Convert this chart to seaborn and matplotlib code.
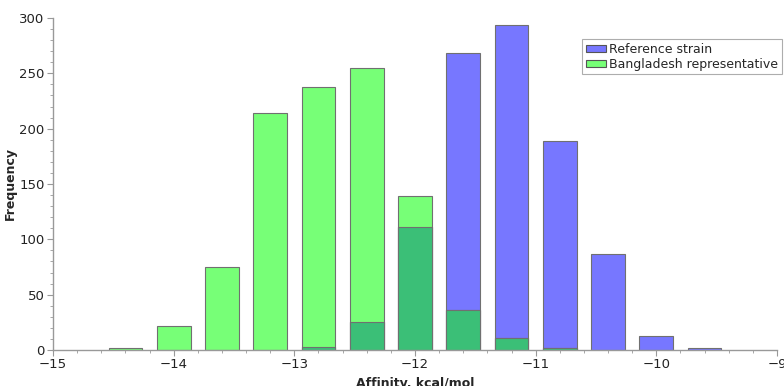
import numpy as np
import pandas as pd
import matplotlib
matplotlib.use("Agg")
import matplotlib.pyplot as plt
import seaborn as sns
from matplotlib.ticker import MultipleLocator
from matplotlib.patches import Patch

# Data (bin centres in kcal/mol)
affinity = [-14.4, -14.0, -13.6, -13.2, -12.8, -12.4, -12.0, -11.6, -11.2, -10.8, -10.4, -10.0, -9.6]
reference_strain = [0, 0, 0, 0, 3, 25, 111, 268, 294, 189, 87, 13, 2]
bangladesh_rep = [2, 22, 75, 214, 238, 255, 139, 36, 11, 2, 0, 0, 0]
series_names = ["Reference strain", "Bangladesh representative"]

BLUE = "#7777ff"
GREEN = "#77ff77"
TEAL = "#3bbf77"

df = pd.DataFrame({"affinity": affinity,
                   "reference": reference_strain,
                   "bangladesh": bangladesh_rep})
df["overlap"] = df[["reference", "bangladesh"]].min(axis=1)

sns.set_style("ticks")
plt.rcParams["font.family"] = ["DejaVu Sans"]

fig = plt.figure(figsize=(7.84, 3.86), dpi=100)
ax = fig.add_axes([53 / 784, 36 / 386, 724 / 784, 332 / 386])

for col, color in [("reference", BLUE), ("bangladesh", GREEN), ("overlap", TEAL)]:
    sub = df[df[col] > 0]
    sns.barplot(data=sub, x="affinity", y=col, native_scale=True, width=0.7,
                color=color, saturation=1, edgecolor="#707070", linewidth=0.8,
                errorbar=None, ax=ax)

ax.set_xlim(-15, -9)
ax.set_ylim(0, 300)
ax.xaxis.set_major_locator(MultipleLocator(1))
ax.xaxis.set_minor_locator(MultipleLocator(0.2))
ax.yaxis.set_major_locator(MultipleLocator(50))
ax.yaxis.set_minor_locator(MultipleLocator(10))

for s in ["top", "right"]:
    ax.spines[s].set_visible(False)
for s in ["left", "bottom"]:
    ax.spines[s].set_color("#999999")
    ax.spines[s].set_linewidth(1.0)

ax.tick_params(which="major", direction="out", length=4, width=0.8,
               color="#999999", labelsize=9.5, labelcolor="#222222", pad=2)
ax.tick_params(which="minor", direction="out", length=2, width=0.6, color="#999999")

ax.set_xlabel("Affinity, kcal/mol", fontsize=9, fontweight="bold", labelpad=4)
ax.set_ylabel("Frequency", fontsize=9, fontweight="bold", labelpad=2)

handles = [Patch(facecolor=BLUE, edgecolor="#555555", linewidth=0.8),
           Patch(facecolor=GREEN, edgecolor="#555555", linewidth=0.8)]
leg = ax.legend(handles, series_names, loc="upper right",
                bbox_to_anchor=(782 / 784, 1 - 39 / 386), bbox_transform=fig.transFigure,
                borderaxespad=0, fontsize=9, frameon=True, fancybox=False,
                handlelength=1.6, handleheight=0.45, handletextpad=0.3,
                labelspacing=0.15, borderpad=0.3)
leg.get_frame().set_edgecolor("#999999")
leg.get_frame().set_linewidth(0.8)

fig.savefig("out.png", dpi=100)
